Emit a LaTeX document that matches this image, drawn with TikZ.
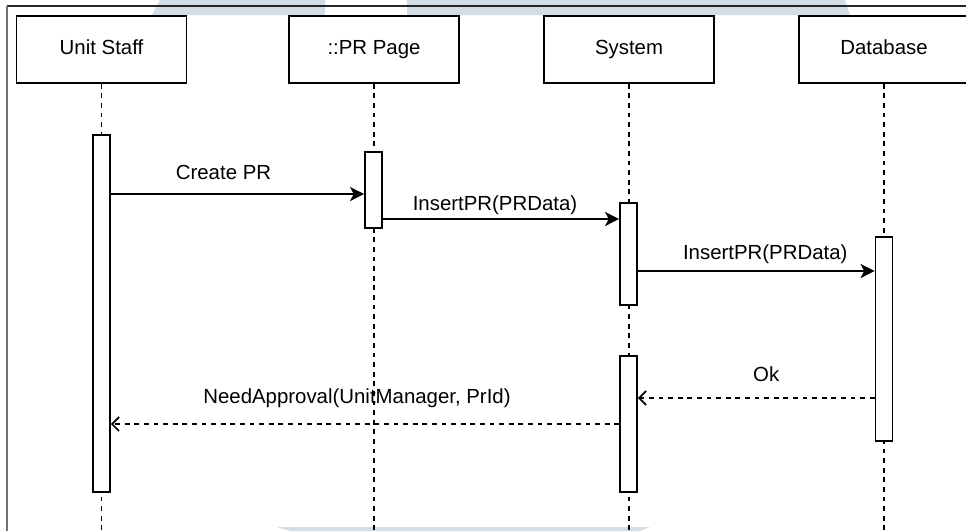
\documentclass[tikz,border=0pt]{standalone}
\usepackage{fontspec}
\setmainfont{Liberation Sans}
\usetikzlibrary{arrows.meta}
\definecolor{wmblue}{RGB}{209,221,231}

\begin{document}
\begin{tikzpicture}[x=1pt,y=-1pt,line width=1.7pt]
\tikzstyle{every node}=[font=\fontsize{20.4}{24}\selectfont]
\tikzstyle{actor}=[draw,fill=white,minimum width=170pt,minimum height=67pt,inner sep=0pt,text height=14.7pt,text depth=4.3pt]
\tikzstyle{act}=[draw,fill=white,minimum width=17pt,inner sep=0pt]
\tikzstyle{life}=[dash pattern=on 4.8pt off 4.8pt]
\tikzstyle{call}=[-{Stealth[length=14pt,width=14pt,inset=3.5pt]}]
\tikzstyle{ret}=[dash pattern=on 4.8pt off 4.8pt,-{Straight Barb[length=7pt,width=14pt]}]

\useasboundingbox (0,0) rectangle (966,531);
\fill[wmblue] (160,0) -- (325,0) -- (325,15) -- (152,15) -- cycle;
\fill[wmblue] (407,0) -- (845,0) -- (850,15) -- (407,15) -- cycle;
\fill[wmblue] (277,527) -- (650,527) -- (640,531) -- (290,531) -- cycle;
\draw[black!85] (966,6) -- (7,6);
\draw[black!55] (7,6) -- (7,531);

\node[actor] (staff) at (101.5,49.5) {Unit Staff};
\node[actor] (page) at (374,49.5) {::PR Page};
\node[actor] (sys) at (629,49.5) {System};
\node[actor] (db) at (884,49.5) {Database};
\foreach \n in {staff,page,sys,db}
\draw[life] (\n.south) -- (\n.south |- 0,531);

\node[act,minimum height=357pt] (staffA) at (101.5,313.5) {};
\node[act,minimum height=76pt] (pageA) at (373.5,190) {};
\node[act,minimum height=102pt] (sysA) at (628.5,254) {};
\node[act,minimum height=204pt] (dbA) at (884,339) {};
\node[act,minimum height=136pt] (sysB) at (628.5,424) {};

\coordinate (m1) at (0,194);
\coordinate (m2) at (0,219);
\coordinate (m3) at (0,271);
\coordinate (m4) at (0,398);
\coordinate (m5) at (0,424);
\draw[call] (staffA.east |- m1) -- (pageA.west |- m1)
node[midway,xshift=-14pt,yshift=22pt] {Create PR};
\draw[call] (pageA.east |- m2) -- (sysA.west |- m2)
node[midway,xshift=-6pt,yshift=14pt] {InsertPR(PRData)};
\draw[call] (sysA.east |- m3) -- (dbA.west |- m3)
node[midway,xshift=9pt,yshift=17pt] {InsertPR(PRData)};
\draw[ret] (dbA.west |- m4) -- (sysB.east |- m4)
node[midway,xshift=10pt,yshift=24pt] {Ok};
\draw[ret] (sysB.west |- m5) -- (staffA.east |- m5)
node[midway,xshift=-8pt,yshift=26pt] {NeedApproval(UnitManager, PrId)};
\end{tikzpicture}
\end{document}
